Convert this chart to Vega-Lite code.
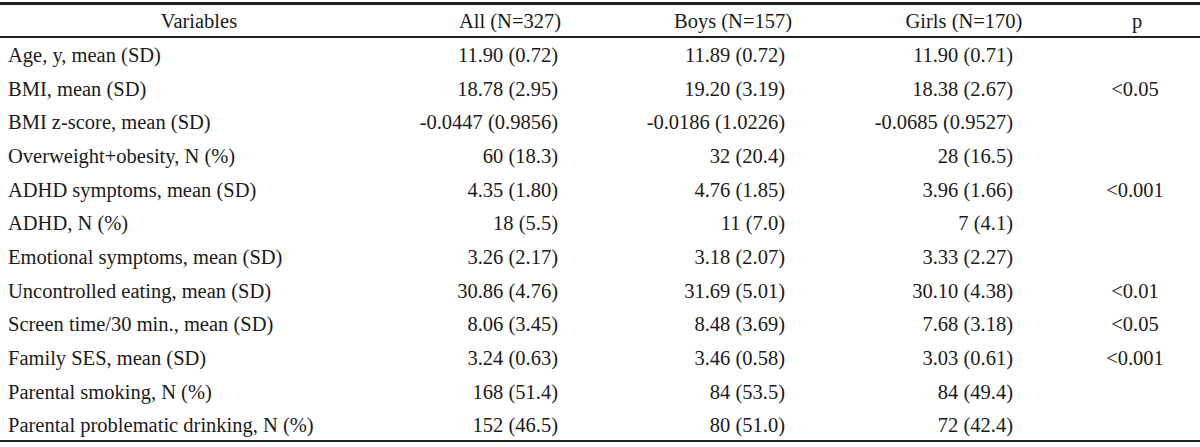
{
  "$schema": "https://vega.github.io/schema/vega-lite/v6.json",
  "width": 1200,
  "height": 447,
  "padding": 0,
  "autosize": {"type": "none"},
  "background": "white",
  "config": {"view": {"stroke": null}, "text": {"font": "Liberation Serif", "fontSize": 20.5, "color": "#1a1a1a", "baseline": "middle", "dy": 2}},
  "data": {"values": [
    {"row": 0, "col": 0, "text": "Variables"},
    {"row": 0, "col": 1, "text": "All (N=327)"},
    {"row": 0, "col": 2, "text": "Boys (N=157)"},
    {"row": 0, "col": 3, "text": "Girls (N=170)"},
    {"row": 0, "col": 4, "text": "p"},
    {"row": 1, "col": 0, "text": "Age, y, mean (SD)"},
    {"row": 1, "col": 1, "text": "11.90 (0.72)"},
    {"row": 1, "col": 2, "text": "11.89 (0.72)"},
    {"row": 1, "col": 3, "text": "11.90 (0.71)"},
    {"row": 2, "col": 0, "text": "BMI, mean (SD)"},
    {"row": 2, "col": 1, "text": "18.78 (2.95)"},
    {"row": 2, "col": 2, "text": "19.20 (3.19)"},
    {"row": 2, "col": 3, "text": "18.38 (2.67)"},
    {"row": 2, "col": 4, "text": "<0.05"},
    {"row": 3, "col": 0, "text": "BMI z-score, mean (SD)"},
    {"row": 3, "col": 1, "text": "-0.0447 (0.9856)"},
    {"row": 3, "col": 2, "text": "-0.0186 (1.0226)"},
    {"row": 3, "col": 3, "text": "-0.0685 (0.9527)"},
    {"row": 4, "col": 0, "text": "Overweight+obesity, N (%)"},
    {"row": 4, "col": 1, "text": "60 (18.3)"},
    {"row": 4, "col": 2, "text": "32 (20.4)"},
    {"row": 4, "col": 3, "text": "28 (16.5)"},
    {"row": 5, "col": 0, "text": "ADHD symptoms, mean (SD)"},
    {"row": 5, "col": 1, "text": "4.35 (1.80)"},
    {"row": 5, "col": 2, "text": "4.76 (1.85)"},
    {"row": 5, "col": 3, "text": "3.96 (1.66)"},
    {"row": 5, "col": 4, "text": "<0.001"},
    {"row": 6, "col": 0, "text": "ADHD, N (%)"},
    {"row": 6, "col": 1, "text": "18 (5.5)"},
    {"row": 6, "col": 2, "text": "11 (7.0)"},
    {"row": 6, "col": 3, "text": "7 (4.1)"},
    {"row": 7, "col": 0, "text": "Emotional symptoms, mean (SD)"},
    {"row": 7, "col": 1, "text": "3.26 (2.17)"},
    {"row": 7, "col": 2, "text": "3.18 (2.07)"},
    {"row": 7, "col": 3, "text": "3.33 (2.27)"},
    {"row": 8, "col": 0, "text": "Uncontrolled eating, mean (SD)"},
    {"row": 8, "col": 1, "text": "30.86 (4.76)"},
    {"row": 8, "col": 2, "text": "31.69 (5.01)"},
    {"row": 8, "col": 3, "text": "30.10 (4.38)"},
    {"row": 8, "col": 4, "text": "<0.01"},
    {"row": 9, "col": 0, "text": "Screen time/30 min., mean (SD)"},
    {"row": 9, "col": 1, "text": "8.06 (3.45)"},
    {"row": 9, "col": 2, "text": "8.48 (3.69)"},
    {"row": 9, "col": 3, "text": "7.68 (3.18)"},
    {"row": 9, "col": 4, "text": "<0.05"},
    {"row": 10, "col": 0, "text": "Family SES, mean (SD)"},
    {"row": 10, "col": 1, "text": "3.24 (0.63)"},
    {"row": 10, "col": 2, "text": "3.46 (0.58)"},
    {"row": 10, "col": 3, "text": "3.03 (0.61)"},
    {"row": 10, "col": 4, "text": "<0.001"},
    {"row": 11, "col": 0, "text": "Parental smoking, N (%)"},
    {"row": 11, "col": 1, "text": "168 (51.4)"},
    {"row": 11, "col": 2, "text": "84 (53.5)"},
    {"row": 11, "col": 3, "text": "84 (49.4)"},
    {"row": 12, "col": 0, "text": "Parental problematic drinking, N (%)"},
    {"row": 12, "col": 1, "text": "152 (46.5)"},
    {"row": 12, "col": 2, "text": "80 (51.0)"},
    {"row": 12, "col": 3, "text": "72 (42.4)"}
  ]},
  "encoding": {
    "y": {"field": "row", "type": "quantitative", "axis": null, "scale": {"domain": [-0.604, 12.678], "reverse": true, "nice": false, "zero": false}}
  },
  "layer": [
    {
      "mark": {"type": "rule", "stroke": "#222", "strokeWidth": 1.6},
      "encoding": {"y": {"datum": -0.5, "type": "quantitative"}}
    },
    {
      "mark": {"type": "rule", "stroke": "#222", "strokeWidth": 1.6},
      "encoding": {"y": {"datum": 0.5, "type": "quantitative"}}
    },
    {
      "mark": {"type": "rule", "stroke": "#222", "strokeWidth": 1.6},
      "encoding": {"y": {"datum": 12.5, "type": "quantitative"}}
    },
    {
      "transform": [{"filter": "datum.row == 0"}],
      "mark": {"type": "text", "align": "center"},
      "encoding": {
        "x": {"field": "col", "type": "quantitative", "axis": null, "scale": {"domain": [0, 1, 2, 3, 4], "range": [199, 510, 733, 964, 1137], "nice": false, "zero": false}},
        "text": {"field": "text"}
      }
    },
    {
      "transform": [{"filter": "datum.row > 0 && datum.col == 0"}],
      "mark": {"type": "text", "align": "left"},
      "encoding": {
        "x": {"field": "col", "type": "quantitative", "axis": null, "scale": {"domain": [0, 1, 2, 3, 4], "range": [8, 558, 785, 1013, 1135], "nice": false, "zero": false}},
        "text": {"field": "text"}
      }
    },
    {
      "transform": [{"filter": "datum.row > 0 && datum.col >= 1 && datum.col <= 3"}],
      "mark": {"type": "text", "align": "right"},
      "encoding": {
        "x": {"field": "col", "type": "quantitative", "axis": null, "scale": {"domain": [0, 1, 2, 3, 4], "range": [8, 558, 785, 1013, 1135], "nice": false, "zero": false}},
        "text": {"field": "text"}
      }
    },
    {
      "transform": [{"filter": "datum.row > 0 && datum.col == 4"}],
      "mark": {"type": "text", "align": "center"},
      "encoding": {
        "x": {"field": "col", "type": "quantitative", "axis": null, "scale": {"domain": [0, 1, 2, 3, 4], "range": [8, 558, 785, 1013, 1135], "nice": false, "zero": false}},
        "text": {"field": "text"}
      }
    }
  ],
  "resolve": {"scale": {"x": "independent"}}
}
